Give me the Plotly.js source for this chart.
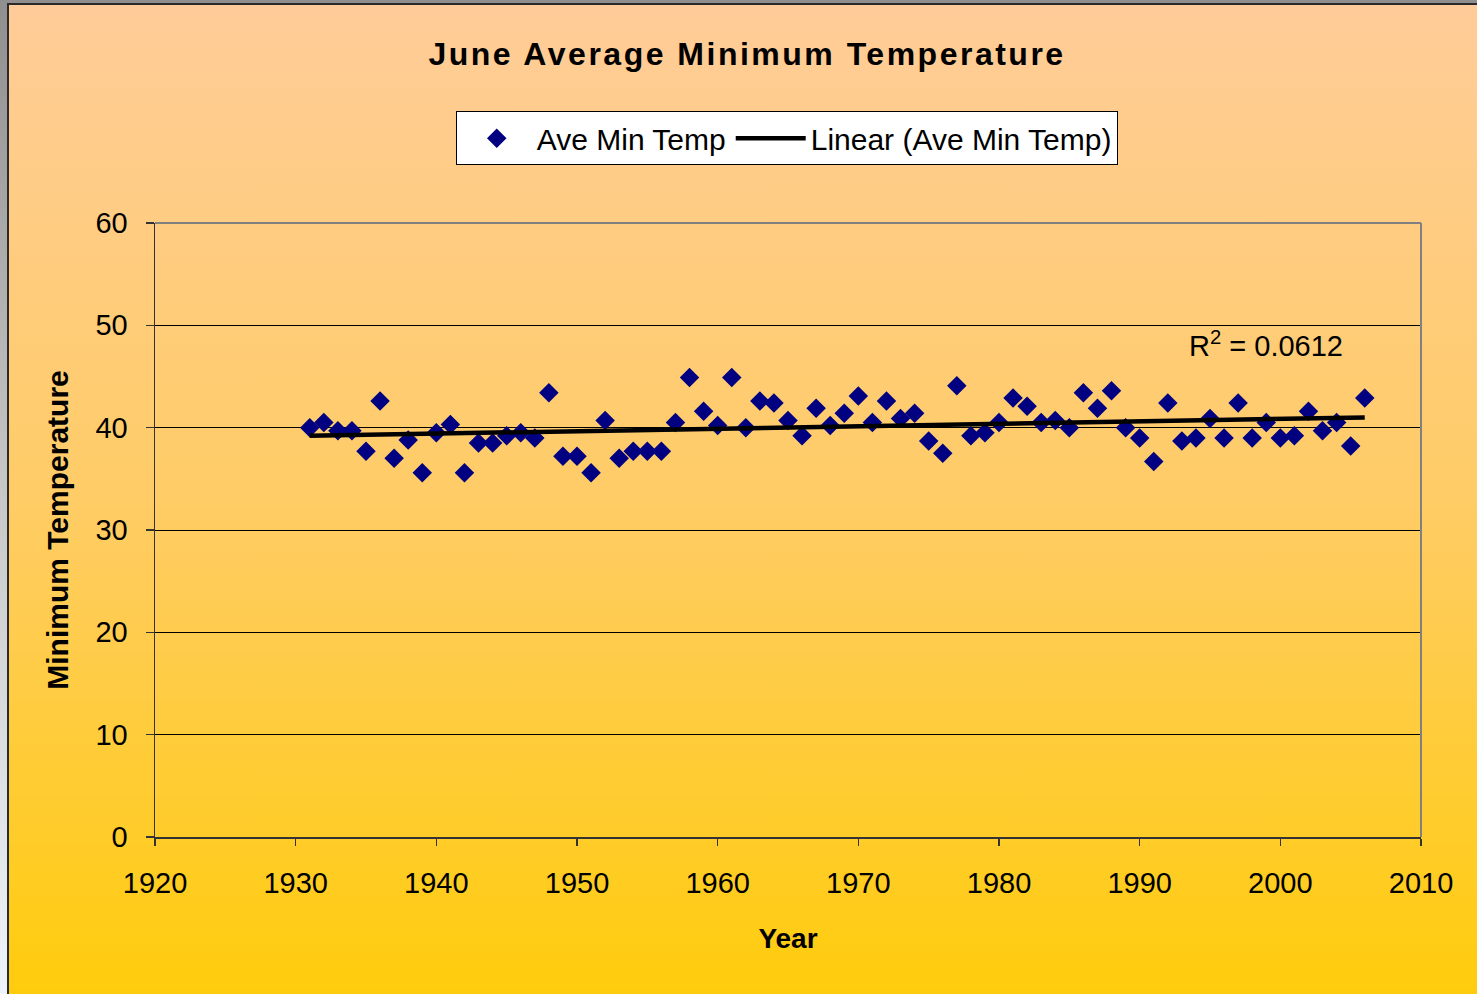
<!DOCTYPE html>
<html>
<head>
<meta charset="utf-8">
<script src="https://cdn.plot.ly/plotly-3.0.1.min.js"></script>
<style>
  html, body { margin:0; padding:0; width:1477px; height:994px; overflow:hidden;
    background: linear-gradient(to bottom, #8f8f8f 0%, #c8c8c8 50%, #eef4fa 100%); }
  #bg { position:absolute; left:7px; top:3px; width:1470px; height:991px;
    border-left:2px solid #2a2a2a; border-top:2px solid #2a2a2a;
    background: linear-gradient(to bottom, #FFCC99 0%, #FFCC66 50%, #FFCC0C 100%); }
  #chart { position:absolute; left:0; top:0; width:1477px; height:994px; }
  .gtitle { letter-spacing: 2.5px; }
</style>
</head>
<body>
<div id="bg"></div>
<div id="chart"></div>
<script>
const years = [1931,1932,1933,1934,1935,1936,1937,1938,1939,1940,
  1941,1942,1943,1944,1945,1946,1947,1948,1949,1950,
  1951,1952,1953,1954,1955,1956,1957,1958,1959,1960,
  1961,1962,1963,1964,1965,1966,1967,1968,1969,1970,
  1971,1972,1973,1974,1975,1976,1977,1978,1979,1980,
  1981,1982,1983,1984,1985,1986,1987,1988,1989,1990,
  1991,1992,1993,1994,1995,1996,1997,1998,1999,2000,
  2001,2002,2003,2004,2005,2006];
const aveMinTemp = [40.0,40.5,39.7,39.7,37.7,42.6,37.0,38.8,35.6,39.5,
  40.3,35.6,38.5,38.5,39.2,39.5,39.0,43.4,37.2,37.2,
  35.6,40.7,37.0,37.7,37.7,37.7,40.5,44.9,41.6,40.2,
  44.9,40.0,42.6,42.4,40.7,39.2,41.9,40.2,41.4,43.1,
  40.5,42.6,40.9,41.4,38.7,37.5,44.1,39.2,39.5,40.5,
  42.9,42.1,40.5,40.7,40.0,43.4,41.9,43.6,40.0,39.0,
  36.7,42.4,38.7,39.0,40.9,39.0,42.4,39.0,40.5,39.0,
  39.2,41.6,39.7,40.5,38.2,42.9];
const trendYears = [1931, 2006];
const trendValues = [39.2, 41.0];
const xTicks = [1920,1930,1940,1950,1960,1970,1980,1990,2000,2010];
const yTicks = [0,10,20,30,40,50,60];
const r2Text = 'R<sup>2</sup> = 0.0612';

const font = 'Liberation Sans, Arial, sans-serif';

const traces = [
  { x: years, y: aveMinTemp, type: 'scatter', mode: 'markers', name: 'Ave Min Temp',
    marker: { symbol: 'diamond', size: 15, color: '#000080' } },
  { x: trendYears, y: trendValues, type: 'scatter', mode: 'lines', name: 'Linear (Ave Min Temp)',
    line: { color: '#000000', width: 4.5 } }
];

const layout = {
  width: 1477, height: 994,
  paper_bgcolor: 'rgba(0,0,0,0)', plot_bgcolor: 'rgba(0,0,0,0)',
  margin: { l: 155, r: 56, t: 223, b: 157 },
  font: { family: font, size: 29, color: '#000' },
  title: { text: '<b>June Average Minimum Temperature</b>', x: 0.5058, xanchor: 'center',
    y: 1 - 54/994, yanchor: 'middle', font: { family: font, size: 32, color: '#000' } },
  showlegend: true,
  legend: { orientation: 'h', x: 0.499, xanchor: 'center', y: 1.182, yanchor: 'top',
    bgcolor: '#ffffff', bordercolor: '#000000', borderwidth: 1,
    font: { family: font, size: 30, color: '#000' }, itemwidth: 70 },
  xaxis: {
    range: [1920, 2010], tickvals: xTicks, ticktext: xTicks.map(String),
    showgrid: false, zeroline: false,
    showline: true, linecolor: '#333333', linewidth: 1.5,
    ticks: 'outside', ticklen: 7, tickcolor: '#333333', tickwidth: 1.5,
    ticklabelstandoff: 13,
    tickfont: { family: font, size: 29, color: '#000' },
    title: { text: '<b>Year</b>', standoff: 30, font: { family: font, size: 28, color: '#000' } }
  },
  yaxis: {
    range: [0, 60], tickvals: yTicks, ticktext: yTicks.map(String),
    showgrid: true, gridcolor: '#000000', gridwidth: 1, zeroline: false,
    showline: true, linecolor: '#333333', linewidth: 1.5,
    ticks: 'outside', ticklen: 8, tickcolor: '#333333', tickwidth: 1.5,
    ticklabelstandoff: 12,
    tickfont: { family: font, size: 29, color: '#000' },
    title: { text: '<b>Minimum Temperature</b>', standoff: 18, font: { family: font, size: 30, color: '#000' } }
  },
  shapes: [
    { type: 'line', xref: 'paper', yref: 'paper', x0: 0, x1: 1, y0: 1, y1: 1,
      line: { color: '#808080', width: 2 }, layer: 'above' },
    { type: 'line', xref: 'paper', yref: 'paper', x0: 1, x1: 1, y0: 0, y1: 1,
      line: { color: '#808080', width: 2 }, layer: 'above' }
  ],
  annotations: [
    { text: r2Text, xref: 'x', yref: 'y', x: 1993.4, y: 48.2, xanchor: 'left', yanchor: 'middle',
      showarrow: false, font: { family: font, size: 29, color: '#000' } }
  ]
};

Plotly.newPlot('chart', traces, layout, { displayModeBar: false, staticPlot: true });
</script>
</body>
</html>
